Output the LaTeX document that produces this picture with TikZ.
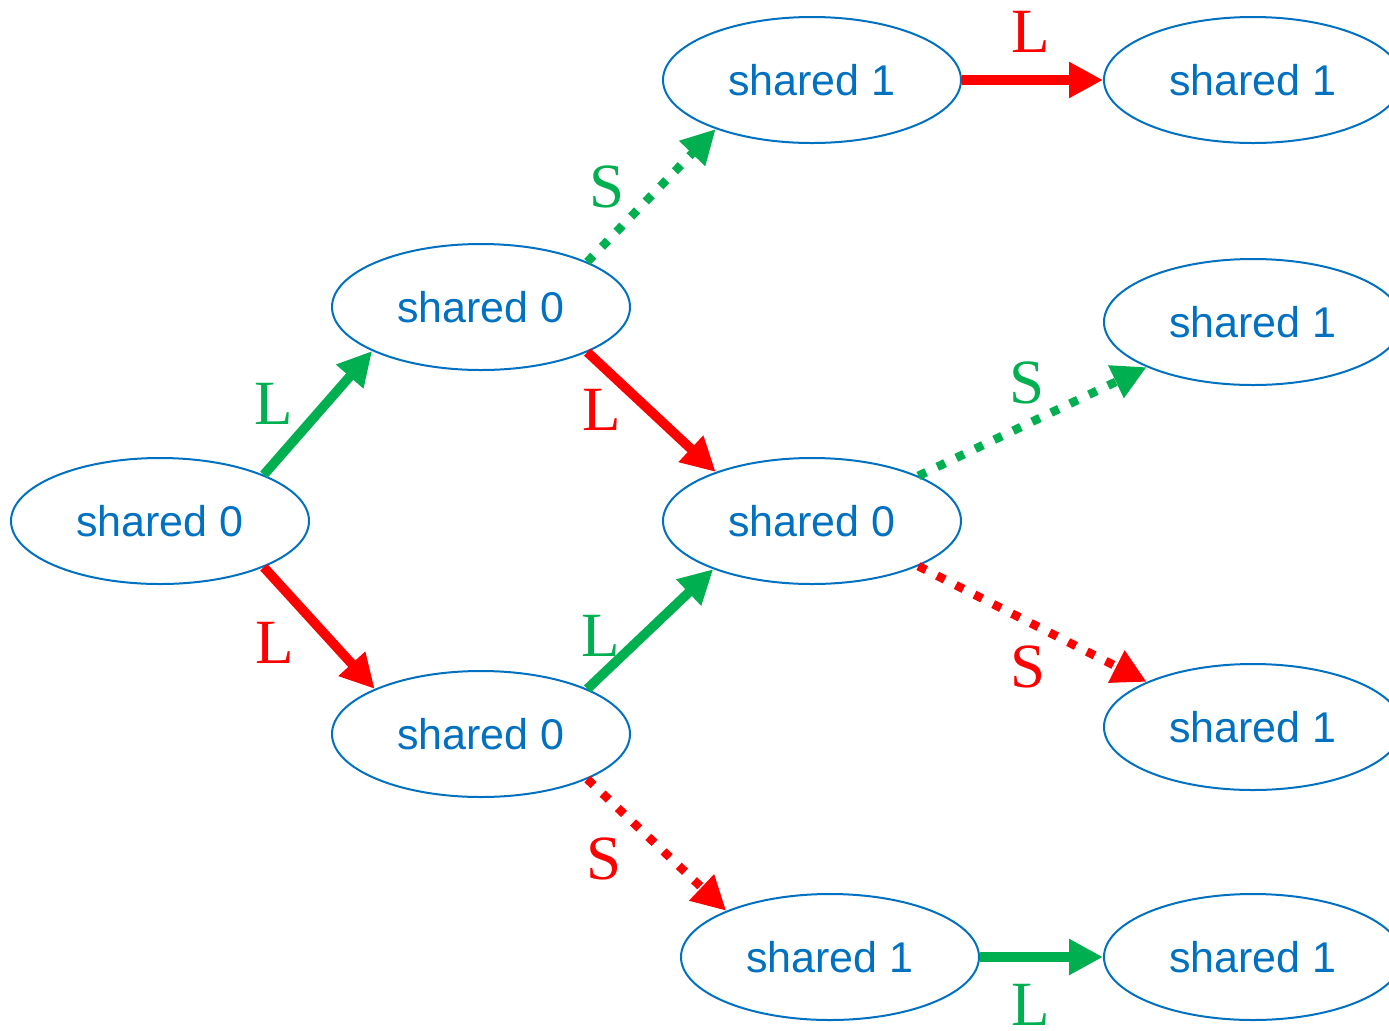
\documentclass[tikz,border=0pt]{standalone}
\usepackage{fontspec}
\usetikzlibrary{arrows.meta,shapes.geometric}
\newfontfamily\nodefont{Liberation Sans}
\newfontfamily\lblfont{Liberation Serif}
\definecolor{StateClr}{RGB}{0,112,192}
\definecolor{GreenClr}{RGB}{0,176,80}
\definecolor{RedClr}{RGB}{255,0,0}

\begin{document}
\begin{tikzpicture}[x=0.5pt,y=-0.5pt,
  state/.style={ellipse,draw=StateClr,line width=1pt,minimum width=149pt,minimum height=63pt,
    inner sep=0pt,text=StateClr,font=\nodefont\fontsize{21.5}{24}\selectfont},
  lnk/.style={line width=4.8pt,-{Triangle[length=17pt,width=17pt]}},
  dots/.style={line width=4.3pt,dash pattern=on 4.3pt off 6.2pt},
  lbl/.style={inner sep=0pt,font=\lblfont\fontsize{31.5}{34}\selectfont}]

\useasboundingbox (0,0) rectangle (1389,1030);

\node[state] (root) at (160,521) {shared 0};
\node[state] (up)   at (481,307) {shared 0};
\node[state] (dn)   at (481,734) {shared 0};
\node[state] (mid)  at (812,521) {shared 0};
\node[state] (top)  at (812,80)  {shared 1};
\node[state] (bot)  at (830,957) {shared 1};
\node[state] (topR) at (1253,80)  {shared 1};
\node[state] (midA) at (1253,322) {shared 1};
\node[state] (midB) at (1253,727) {shared 1};
\node[state] (botR) at (1253,957) {shared 1};

\draw[lnk,GreenClr] (root.24) -- node[lbl,shift={(-44,-9)}] {L} (up.202);
\draw[lnk,RedClr] (root.336) -- node[lbl,shift={(-44,15)}] {L} (dn.157);
\draw[lnk,dots,GreenClr] (up.23) -- node[lbl,shift={(-45,-9)}] {S} (top.207);
\draw[lnk,RedClr] (up.337) -- node[lbl,shift={(-50,-2)}] {L} (mid.153);
\draw[lnk,GreenClr] (dn.23) -- node[lbl,shift={(-50,7)}] {L} (mid.206);
\draw[lnk,dots,RedClr] (dn.337) -- node[lbl,shift={(-53,14)}] {S} (bot.156);
\draw[lnk,RedClr] (top.east) -- node[lbl,shift={(-2,-48)}] {L} (topR.west);
\draw[lnk,dots,GreenClr] (mid.23) -- node[lbl,shift={(-5,-39)}] {S} (midA.203);
\draw[lnk,dots,RedClr] (mid.337) -- node[lbl,shift={(-4,43)}] {S} (midB.157);
\draw[lnk,GreenClr] (bot.east) -- node[lbl,shift={(-11,48)}] {L} (botR.west);

\end{tikzpicture}
\end{document}
